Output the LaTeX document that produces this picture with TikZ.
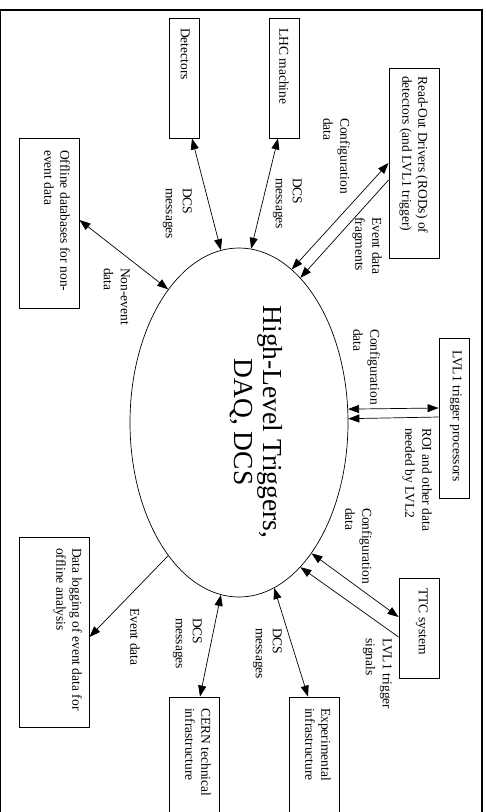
\documentclass[tikz,border=0pt]{standalone}
\usepackage{fontspec}
\setmainfont{Liberation Serif}
\usetikzlibrary{arrows.meta,shapes.geometric}
\begin{document}
\begin{tikzpicture}[x=1pt,y=-1pt,
  boxnode/.style={draw,line width=0.9pt,inner sep=0pt},
  boxtxt/.style={rotate=-90,anchor=north west,align=left,inner sep=0pt,font=\fontsize{13.5}{16}\selectfont},
  lbl/.style={rotate=-90,anchor=north west,align=left,inner sep=0pt,font=\fontsize{13.5}{17}\selectfont},
  dbl/.style={{Triangle[length=11pt,width=8pt]}-{Triangle[length=11pt,width=8pt]},line width=0.7pt},
  sgl/.style={-{Triangle[length=11pt,width=8pt]},line width=0.7pt}]
\useasboundingbox (0,0) rectangle (487,812);
\draw[line width=1.2pt] (0.8,10) rectangle (482,840);
% central ellipse
\node[draw,ellipse,line width=0.7pt,minimum width=218pt,minimum height=349pt,inner sep=0pt] (hl) at (239,422.5) {};
\node[rotate=-90,align=center,inner sep=0pt,font=\fontsize{27.5}{29}\selectfont] (ttl) at (256,422) {High-Level Triggers,\\DAQ, DCS};
% boxes
\node[boxnode,minimum width=30pt,minimum height=120pt] (det) at (184,78) {};
\node[boxnode,minimum width=30pt,minimum height=120pt] (lhc) at (284,78) {};
\node[boxnode,minimum width=50pt,minimum height=190pt] (rod) at (414,163) {};
\node[boxnode,minimum width=60pt,minimum height=170pt] (off) at (49,223) {};
\node[boxnode,minimum width=30pt,minimum height=160pt] (lvl) at (454,418) {};
\node[boxnode,minimum width=40pt,minimum height=100pt] (ttc) at (419,628) {};
\node[boxnode,minimum width=70pt,minimum height=190pt] (dl) at (54,632) {};
\node[boxnode,minimum width=50pt,minimum height=140pt] (cern) at (194,767) {};
\node[boxnode,minimum width=50pt,minimum height=140pt] (exp) at (314,767) {};
% box texts
\node[boxtxt] (dett) at (190,28) {Detectors};
\node[boxtxt] (lhct) at (289,28) {LHC machine};
\node[boxtxt] (rodt) at (428,76) {Read-Out Drivers (RODs) of\\detectors (and LVL1 trigger)};
\node[boxtxt] (offt) at (70,150) {Offline databases for non-\\event data};
\node[boxtxt] (lvlt) at (462,350) {LVL1 trigger processors};
\node[boxtxt] (ttct) at (428,588) {TTC system};
\node[boxtxt] (dlt) at (82,548) {Data logging of event data for\\offline analysis};
\node[boxtxt] (cernt) at (211,708) {CERN technical\\infrastructure};
\node[boxtxt] (expt) at (331,708) {Experimental\\infrastructure};
% connectors
\draw[dbl] (hl.71.3) -- (rod.west);
\draw[sgl] ([yshift=-17pt]rod.west) -- (hl.67.1);
\draw[dbl] (hl.86.4) -- ([xshift=-6pt]lhc.south);
\draw[dbl] (hl.96.9) -- ([xshift=8pt]det.south);
\draw[dbl] (hl.118) -- ([yshift=3pt]off.east);
\draw[dbl] (hl.7.6) -- ([yshift=10pt]lvl.west);
\draw[sgl] ([yshift=1pt]lvl.west) -- (hl.2.9);
\draw[dbl] (hl.-61.4) -- ([yshift=11pt]ttc.west);
\draw[sgl] ([yshift=-9pt]ttc.west) -- (hl.-67.2);
\draw[sgl] (hl.-118) -- ([yshift=-5pt]dl.east);
\draw[dbl] (hl.-96.9) -- ([xshift=6pt]cern.north);
\draw[dbl] (hl.-78.8) -- ([xshift=-6pt]exp.north);
% labels
\node[lbl] (l1) at (350,118) {Configuration\\data};
\node[lbl] (l2) at (382,217) {Event data\\fragments};
\node[lbl] (l3) at (302,178) {DCS\\messages};
\node[lbl] (l4) at (192,188) {DCS\\messages};
\node[lbl] (l5) at (130,268) {Non-event\\data};
\node[lbl] (l6) at (380,329) {Configuration\\data};
\node[lbl] (l7) at (432,428) {ROI and other data\\needed by LVL2};
\node[lbl] (l8) at (372,508) {Configuration\\data};
\node[lbl] (l9) at (392,638) {LVL1 trigger\\signals};
\node[lbl] (l10) at (282,628) {DCS\\messages};
\node[lbl] (l11) at (202,618) {DCS\\messages};
\node[lbl] (l12) at (140,608) {Event data};
\end{tikzpicture}
\end{document}
